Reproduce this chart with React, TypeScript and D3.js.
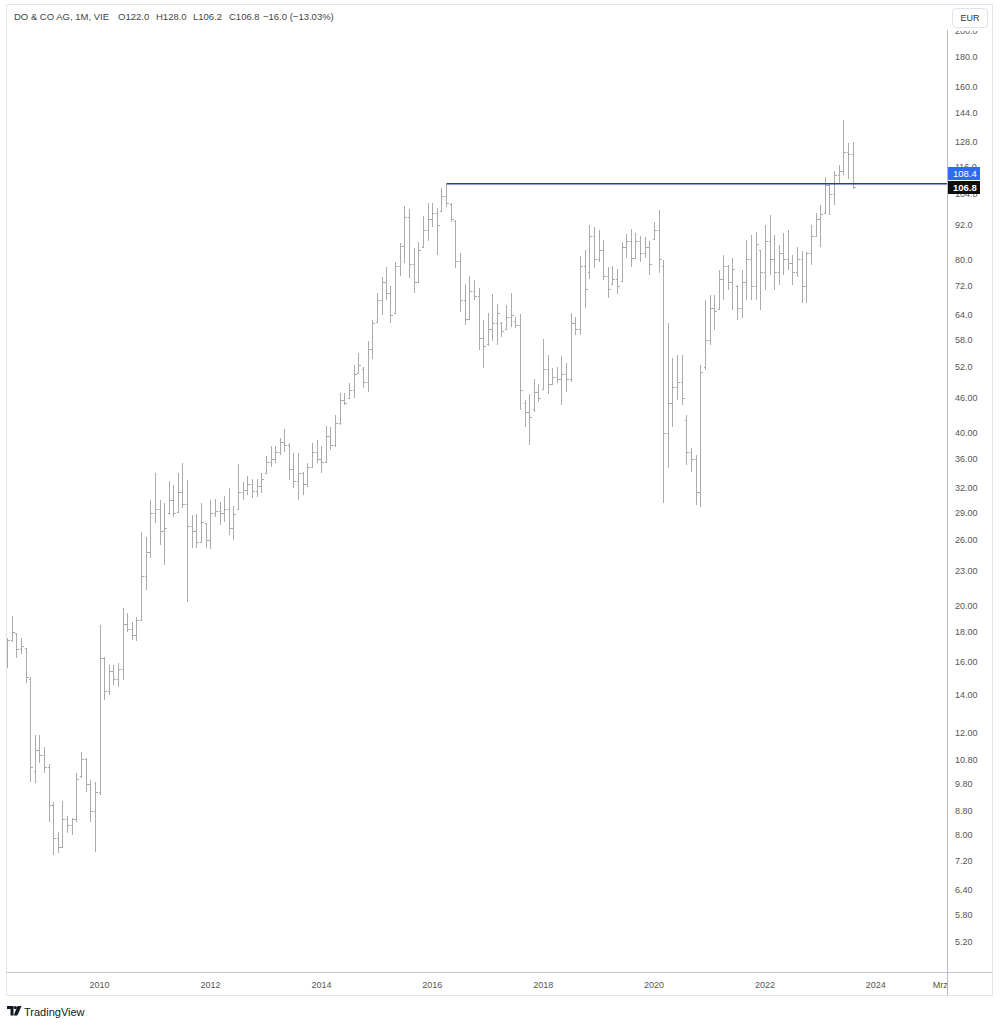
import React from "react";
import * as d3 from "d3";

// Monthly OHLC, first bar = May 2008
const START = new Date(2008, 4, 1);

const opens = [
  16.2, 17.4, 17.9, 16.8, 16.9, 14.9, 10.3, 11.2, 11.0, 10.5,
  9.0, 7.9, 7.6, 8.5, 8.3, 8.5, 10.1, 10.8, 9.8, 8.8,
  9.5, 16.2, 14.2, 15.4, 14.9, 15.5, 18.6, 18.2, 17.8, 18.9,
  22.5, 24.8, 29.0, 29.5, 27.0, 29.0, 30.5, 29.1, 31.5, 30.0,
  27.5, 27.0, 25.8, 27.8, 26.0, 29.0, 29.2, 29.0, 29.5, 27.3,
  29.5, 31.5, 31.8, 32.5, 31.6, 32.3, 34.0, 35.5, 36.0, 37.0,
  38.5, 38.0, 34.5, 33.0, 34.0, 32.5, 34.9, 37.0, 36.0, 35.5,
  39.5, 38.0, 41.5, 45.5, 45.9, 47.5, 50.8, 51.5, 49.0, 56.0,
  62.3, 68.0, 73.0, 70.0, 64.5, 78.0, 84.5, 95.0, 78.5, 73.0,
  84.1, 90.0, 94.0, 96.5, 97.0, 103.0, 100.0, 93.5, 79.5, 68.0,
  63.0, 70.5, 69.0, 58.5, 57.0, 60.5, 62.0, 62.0, 60.5, 63.5,
  62.5, 61.5, 45.0, 43.5, 44.0, 47.0, 47.6, 51.5, 48.5, 50.0,
  49.5, 50.5, 49.5, 62.0, 60.5, 78.0, 76.0, 88.0, 80.0, 83.0,
  75.0, 72.5, 74.0, 73.5, 84.0, 86.0, 80.5, 86.0, 82.0, 84.0,
  87.0, 90.0, 78.0, 40.0, 45.0, 48.0, 49.0, 42.0, 37.0, 36.0,
  31.5, 52.0, 58.0, 66.0, 65.5, 74.0, 78.0, 73.0, 72.0, 66.0,
  73.0, 80.0, 72.0, 83.0, 76.0, 86.0, 80.0, 76.0, 82.0, 80.0,
  79.0, 76.0, 80.0, 72.0, 82.0, 88.0, 94.0, 96.5, 108.0, 104.0,
  112.0, 114.0, 123.0, 122.0,
];

const highs = [
  17.6, 19.2, 17.9, 17.6, 16.9, 15.0, 11.9, 11.9, 11.35, 10.6,
  9.1, 8.07, 9.14, 8.6, 8.54, 10.23, 11.13, 10.86, 9.94, 9.86,
  18.5, 16.28, 15.76, 15.76, 15.9, 19.8, 19.4, 18.72, 19.1, 26.86,
  26.32, 30.5, 34.0, 30.5, 30.2, 32.9, 32.4, 34.0, 35.4, 33.07,
  28.75, 28.86, 30.2, 27.85, 30.5, 30.64, 30.27, 31.0, 32.0, 29.8,
  35.26, 32.8, 33.6, 33.2, 33.2, 34.0, 36.4, 37.9, 37.9, 39.1,
  40.56, 38.35, 36.8, 36.8, 34.15, 35.4, 38.35, 38.8, 37.9, 41.05,
  40.89, 42.9, 46.85, 46.85, 48.8, 52.4, 55.0, 52.0, 57.7, 62.8,
  69.9, 74.57, 77.6, 71.9, 79.2, 85.4, 99.1, 97.9, 83.75, 85.8,
  95.2, 100.3, 100.3, 98.3, 106.5, 108.4, 100.3, 93.7, 82.1, 72.5,
  74.9, 73.7, 71.4, 62.8, 64.5, 69.6, 66.9, 62.3, 66.65, 69.9,
  63.5, 64.3, 45.6, 46.7, 49.6, 48.6, 58.2, 54.6, 51.8, 52.0,
  54.3, 52.8, 64.5, 63.5, 81.1, 83.1, 91.8, 91.1, 90.0, 86.5,
  77.6, 77.9, 77.0, 85.8, 88.6, 90.4, 88.9, 87.9, 87.5, 86.1,
  92.9, 97.5, 79.8, 62.0, 53.9, 54.6, 54.6, 42.9, 37.6, 36.55,
  52.4, 68.0, 69.4, 69.4, 76.7, 81.4, 78.2, 80.5, 72.2, 76.7,
  86.5, 88.2, 89.3, 83.1, 91.8, 95.6, 88.2, 84.8, 88.9, 90.0,
  81.4, 84.09, 82.8, 82.5, 91.8, 96.3, 99.5, 111.3, 108.6, 114.0,
  116.8, 139.8, 127.5, 128.0,
];

const lows = [
  15.6, 17.3, 16.2, 16.5, 14.66, 9.86, 9.82, 10.64, 10.23, 8.41,
  7.36, 7.42, 7.6, 8.04, 7.98, 8.41, 10.02, 9.48, 8.41, 7.45,
  9.37, 13.7, 13.98, 14.55, 14.43, 14.84, 17.98, 17.42, 17.35, 18.88,
  21.28, 24.2, 27.85, 25.5, 23.5, 28.75, 28.52, 29.1, 29.56, 20.28,
  25.2, 25.2, 25.8, 25.2, 25.1, 28.52, 27.6, 27.96, 26.5, 26.0,
  29.33, 30.5, 31.14, 30.76, 30.89, 31.4, 34.0, 34.84, 35.4, 36.55,
  37.0, 33.07, 32.03, 30.5, 31.14, 32.16, 34.84, 35.4, 34.0, 35.4,
  37.3, 37.74, 41.2, 44.65, 45.9, 45.9, 50.8, 47.8, 47.0, 53.7,
  62.3, 64.0, 68.0, 62.0, 64.5, 74.9, 78.9, 74.3, 69.9, 72.8,
  84.09, 86.1, 91.1, 81.4, 96.7, 98.7, 92.9, 77.3, 64.8, 61.5,
  62.8, 68.0, 55.7, 51.8, 56.6, 57.7, 56.8, 58.64, 60.5, 61.03,
  60.8, 43.8, 40.89, 38.04, 43.4, 45.2, 47.6, 46.7, 48.4, 48.8,
  44.65, 47.0, 49.0, 59.1, 59.1, 65.85, 74.0, 77.3, 79.2, 73.7,
  68.6, 72.2, 69.6, 73.0, 80.5, 77.6, 80.5, 79.2, 80.5, 75.2,
  86.5, 75.8, 30.2, 34.7, 40.89, 45.6, 44.65, 35.1, 34.15, 29.9,
  29.68, 51.4, 56.8, 60.3, 65.3, 68.0, 70.8, 65.3, 62.8, 63.3,
  68.0, 68.0, 68.0, 65.3, 70.8, 75.2, 70.8, 72.2, 75.2, 76.7,
  72.2, 74.57, 67.2, 67.2, 78.2, 87.52, 84.09, 96.3, 95.6, 99.5,
  108.6, 112.2, 110.3, 106.2,
];

const closes = [
  17.4, 18.0, 16.8, 17.0, 15.0, 10.5, 11.2, 11.0, 10.5, 9.0,
  7.9, 7.6, 8.5, 8.3, 8.5, 10.0, 10.8, 9.8, 8.8, 9.5,
  16.2, 14.2, 15.4, 14.9, 15.5, 18.6, 18.2, 17.8, 18.9, 22.5,
  24.8, 29.0, 29.5, 27.0, 27.3, 30.5, 29.0, 31.5, 30.0, 27.5,
  27.0, 25.8, 28.0, 26.0, 29.0, 29.2, 29.0, 29.5, 27.3, 28.9,
  31.5, 31.8, 32.5, 31.6, 32.3, 33.2, 35.5, 36.0, 37.0, 38.5,
  38.0, 34.5, 33.0, 34.0, 32.5, 34.8, 37.0, 36.0, 35.5, 39.5,
  38.0, 41.5, 45.5, 45.0, 47.5, 50.5, 52.5, 49.0, 56.0, 62.0,
  68.0, 73.0, 70.0, 64.0, 78.0, 84.5, 95.0, 78.5, 73.0, 83.0,
  90.0, 94.0, 96.5, 92.0, 103.0, 100.5, 94.0, 79.5, 68.0, 63.0,
  70.5, 69.0, 58.5, 56.5, 60.5, 62.0, 64.5, 60.0, 63.5, 64.0,
  61.5, 47.5, 43.5, 42.5, 47.0, 46.0, 51.5, 48.5, 50.0, 49.5,
  50.5, 49.5, 62.0, 60.5, 78.0, 71.0, 88.0, 80.0, 83.0, 75.0,
  71.0, 74.0, 72.0, 84.0, 86.0, 80.5, 86.0, 82.0, 84.0, 78.5,
  90.0, 80.0, 40.0, 45.0, 48.0, 49.0, 46.0, 37.0, 36.0, 31.5,
  51.0, 58.0, 66.0, 65.0, 74.0, 78.0, 73.0, 77.0, 66.0, 73.0,
  80.0, 72.0, 85.0, 76.0, 86.0, 80.0, 76.0, 82.0, 80.0, 79.0,
  76.0, 80.0, 72.0, 82.0, 88.0, 94.0, 96.0, 108.0, 104.0, 112.0,
  114.0, 123.0, 122.0, 106.8,
];

const priceTicks = [200, 180, 160, 144, 128, 116, 104, 92, 80, 72, 64, 58, 52, 46, 40, 36, 32, 29, 26, 23, 20, 18, 16, 14, 12, 10.8, 9.8, 8.8, 8, 7.2, 6.4, 5.8, 5.2];
const priceTickLabels = ["200.0", "180.0", "160.0", "144.0", "128.0", "116.0", "104.0", "92.0", "80.0", "72.0", "64.0", "58.0", "52.0", "46.00", "40.00", "36.00", "32.00", "29.00", "26.00", "23.00", "20.00", "18.00", "16.00", "14.00", "12.00", "10.80", "9.80", "8.80", "8.00", "7.20", "6.40", "5.80", "5.20"];
const yearTicks = [2010, 2012, 2014, 2016, 2018, 2020, 2022, 2024];
const monthTickLabel = "Mrz";
const monthTickDate = new Date(2025, 2, 1);

const levelPrice = 108.4;
const levelStartIndex = 95;
const lastClose = 106.8;
const titleParts = ["DO & CO AG, 1M, VIE", "O122.0", "H128.0", "L106.2", "C106.8", "\u221216.0 (\u221213.03%)"];

const FONT = "'Liberation Sans', Arial, sans-serif";

export default function App() {
  const W = 1000, H = 1030;
  const axisX = 947.5;
  const x = d3.scaleTime().domain([new Date(2010, 0, 1), new Date(2024, 0, 1)]).range([99.6, 875.8]);
  const y = d3.scaleLog().domain([5.2, 180]).range([942, 57]);

  const bars = opens.map((o, i) => ({
    date: new Date(START.getFullYear(), START.getMonth() + i, 1),
    o, h: highs[i], l: lows[i], c: closes[i],
  }));

  const barColor = "#ababab";
  const levelY = y(levelPrice);
  const levelX = Math.round(x(bars[levelStartIndex].date)) + 0.5;
  const titleX = [14, 118, 156, 193, 229, 263];

  return (
    <svg width={W} height={H} style={{ position: "absolute", left: 0, top: 0, background: "#fff" }} fontFamily={FONT}>
      <rect x={0} y={0} width={W} height={H} fill="#fff" />
      <defs>
        <clipPath id="pane"><rect x={7} y={5} width={axisX - 7} height={967} /></clipPath>
        <clipPath id="taxis"><rect x={7} y={973} width={axisX - 7} height={22} /></clipPath>
        <clipPath id="paxis"><rect x={948} y={31} width={44} height={941} /></clipPath>
      </defs>
      {/* frame */}
      <rect x={6.5} y={4.5} width={986} height={991} fill="none" stroke="#e3e5ea" />

      {/* bars */}
      <g clipPath="url(#pane)" stroke={barColor} strokeWidth={1} shapeRendering="crispEdges">
        {bars.map((b, i) => {
          const px = Math.round(x(b.date)) + 0.5;
          const yo = Math.round(y(b.o)) + 0.5;
          const yc = Math.round(y(b.c)) + 0.5;
          return (
            <g key={i}>
              <line x1={px} x2={px} y1={y(b.h)} y2={y(b.l)} />
              <line x1={px - 2} x2={px} y1={yo} y2={yo} />
              <line x1={px} x2={px + 2} y1={yc} y2={yc} />
            </g>
          );
        })}
      </g>

      {/* horizontal level line */}
      <line x1={levelX} x2={axisX} y1={levelY} y2={levelY} stroke="#1d3ea6" strokeWidth={1.5} />

      {/* price axis */}
      <line x1={axisX} x2={axisX} y1={30} y2={995.5} stroke="#b9bcc4" />
      <line x1={6.5} x2={992.5} y1={972.5} y2={972.5} stroke="#c4c7ce" />
      <g clipPath="url(#paxis)">
        {priceTicks.map((v, i) => (
          <text key={i} x={955} y={y(v) + 3.2} fontSize={9} fill="#555">{priceTickLabels[i]}</text>
        ))}
      </g>
      <rect x={952.5} y={8.5} width={35} height={19} rx={3} fill="#fff" stroke="#e0e3eb" />
      <text x={970} y={21} fontSize={9} fill="#333" textAnchor="middle">EUR</text>

      {/* price labels */}
      <rect x={948} y={167} width={32} height={13} fill="#2f6bef" />
      <text x={953} y={176.8} fontSize={9.5} fill="#fff">{levelPrice.toFixed(1)}</text>
      <rect x={948} y={181} width={32} height={13} fill="#0d0d0d" />
      <text x={953} y={190.8} fontSize={9.5} fill="#fff" fontWeight="bold">{lastClose.toFixed(1)}</text>

      {/* time axis */}
      <g clipPath="url(#taxis)">
        {yearTicks.map((yr) => (
          <text key={yr} x={x(new Date(yr, 0, 1))} y={987.5} fontSize={9} fill="#555" textAnchor="middle">{yr}</text>
        ))}
        <text x={x(monthTickDate)} y={987.5} fontSize={9} fill="#555" textAnchor="middle">{monthTickLabel}</text>
      </g>

      {/* title */}
      {titleParts.map((t, i) => (
        <text key={i} x={titleX[i]} y={20} fontSize={9.5} fill="#444">{t}</text>
      ))}

      {/* TradingView logo */}
      <g fill="#131722">
        <path d="M7,1006 h6.5 v9.5 h-3 v-6.5 h-3.5 z" />
        <circle cx={15.3} cy={1007.6} r={1.6} />
        <path d="M17.5,1006 h4 l-4.2,9.5 h-3.6 z" />
      </g>
      <text x={24} y={1015.5} fontSize={11} fill="#131722">TradingView</text>
    </svg>
  );
}
